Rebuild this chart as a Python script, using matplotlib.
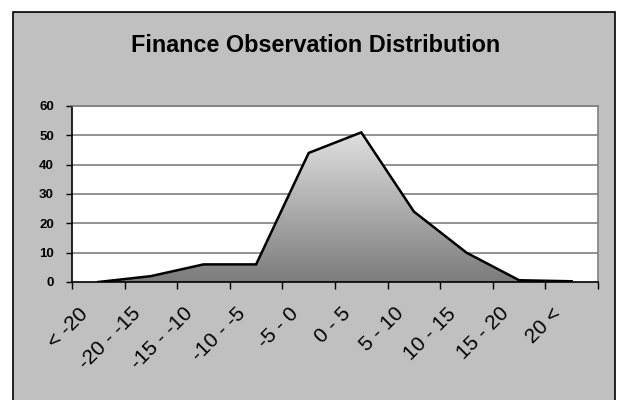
import numpy as np
import matplotlib.pyplot as plt
from matplotlib.patches import Rectangle
from matplotlib.colors import LinearSegmentedColormap
from matplotlib.transforms import ScaledTranslation, blended_transform_factory

plt.rcParams["font.family"] = ["Liberation Sans", "DejaVu Sans"]

categories = ["< -20", "-20 - -15", "-15 - -10", "-10 - -5", "-5 - 0",
              "0 - 5", "5 - 10", "10 - 15", "15 - 20", "20 <"]
counts = [0, 2, 6, 6, 44, 51, 24, 10, 0.6, 0.25]
y_ticks = [0, 10, 20, 30, 40, 50, 60]

W, H = 617, 400
fig = plt.figure(figsize=(W / 100, H / 100), dpi=100, facecolor="white")

# grey chart box, bottom edge runs off the image
fig.patches.append(Rectangle((13 / W, -0.05), 602 / W, 1.05 - 12 / H,
                             transform=fig.transFigure, facecolor="#c0c0c0",
                             edgecolor="black", linewidth=1.2, zorder=-5))

fig.text(316 / W, 1 - 45 / H, "Finance Observation Distribution",
         ha="center", va="center", fontsize=16.8, fontweight="bold")

ax = fig.add_axes([72 / W, 1 - 282 / H, 526 / W, 176 / H])
ax.set_facecolor("white")

x = np.arange(len(categories))

# gradient fill clipped to the area polygon
poly = ax.fill_between(x, counts, 0, facecolor="none", edgecolor="none")
cmap = LinearSegmentedColormap.from_list("g", ["#7c7c7c", "#e0e0e0"])
grad = np.linspace(0, 1, 256).reshape(-1, 1)
img = ax.imshow(grad, cmap=cmap, origin="lower", aspect="auto",
                extent=[x[0], x[-1], 0, max(counts)], zorder=2)
img.set_clip_path(poly.get_paths()[0], transform=ax.transData)
ax.set_xlim(-0.5, len(categories) - 0.5)
ax.set_ylim(0, 60)
ax.plot(x, counts, color="black", linewidth=1.8, zorder=3,
        solid_joinstyle="miter")

for yv in y_ticks[1:]:
    ax.axhline(yv, color="#808080", linewidth=1.2, zorder=1)

ax.set_yticks(y_ticks)
ax.set_yticklabels([str(v) for v in y_ticks], fontsize=9.5, fontweight="bold")
ax.set_xticks(np.arange(len(categories) + 1) - 0.5)
ax.set_xticklabels([])
ax.tick_params(axis="x", length=5, width=1, direction="out")
ax.tick_params(axis="y", length=4, width=1, direction="out", pad=9)

# rotated category labels, Excel style (offset left of the category centre)
lbl_tr = (blended_transform_factory(ax.transData, ax.transAxes)
          + ScaledTranslation(-20 / 100, -22 / 100, fig.dpi_scale_trans))
for i, cat in enumerate(categories):
    ax.text(x[i], 0, cat, transform=lbl_tr, rotation=45, ha="right",
            va="top", rotation_mode="anchor", fontsize=15, clip_on=False)

for side in ["top", "right"]:
    ax.spines[side].set_color("#808080")
    ax.spines[side].set_linewidth(1.2)
for side in ["left", "bottom"]:
    ax.spines[side].set_color("black")
    ax.spines[side].set_linewidth(1.2)
ax.spines["bottom"].set_zorder(4)

fig.savefig("out.png", dpi=100, facecolor="white")
